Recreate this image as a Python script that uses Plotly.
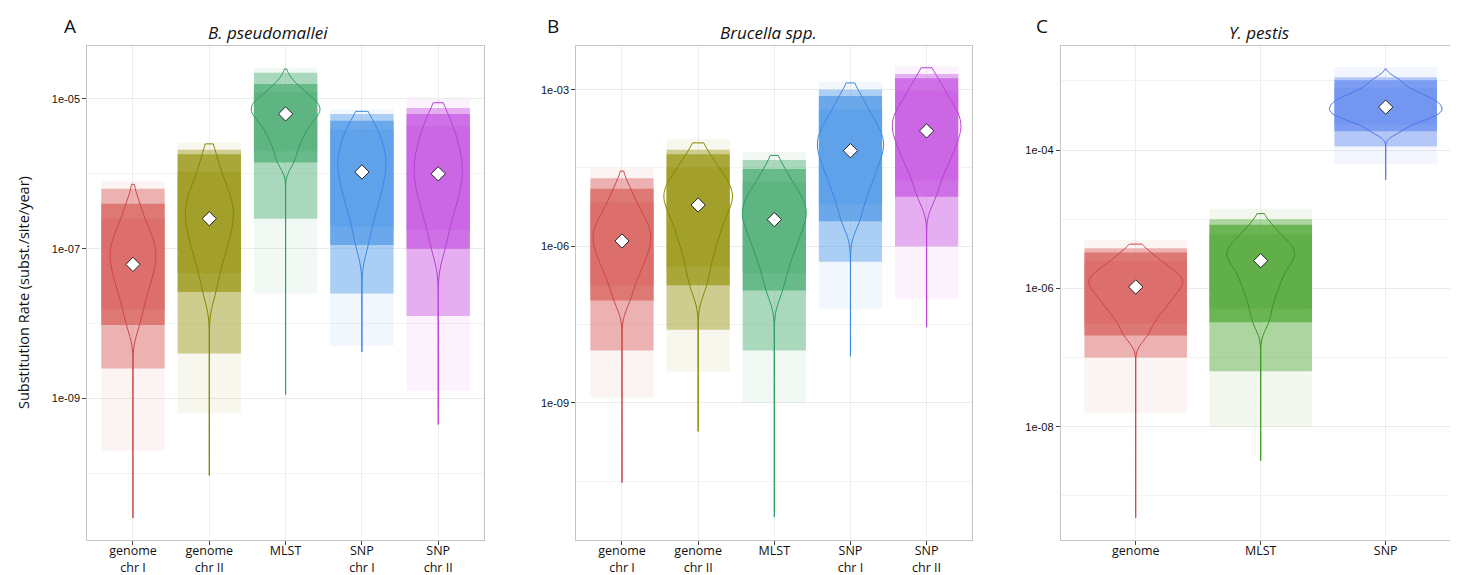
import plotly.graph_objects as go

# ---------------- categories / tick labels ----------------
cats_A = ["genome chr I", "genome chr II", "MLST", "SNP chr I", "SNP chr II"]
ticktext_A = ["genome<br>chr I", "genome<br>chr II", "MLST", "SNP<br>chr I", "SNP<br>chr II"]
cats_B = ["genome chr I", "genome chr II", "MLST", "SNP chr I", "SNP chr II"]
ticktext_B = ["genome<br>chr I", "genome<br>chr II", "MLST", "SNP<br>chr I", "SNP<br>chr II"]
cats_C = ["genome", "MLST", "SNP"]
ticktext_C = ["genome", "MLST", "SNP"]

# y axis ticks (log10 of substitution rate)
ytick_A = [-9, -7, -5]
ytick_label_A = ["1e-09", "1e-07", "1e-05"]
yminor_A = [-10, -8, -6]
ytick_B = [-9, -6, -3]
ytick_label_B = ["1e-09", "1e-06", "1e-03"]
yminor_B = [-10.5, -7.5, -4.5]
ytick_C = [-8, -6, -4]
ytick_label_C = ["1e-08", "1e-06", "1e-04"]
yminor_C = [-9, -7, -5, -3]

# ---------------- data: log10(rate) quantiles ----------------
# Panel A  B. pseudomallei
A_genome_chrI = [-8.02, -7.81, -7.66, -7.54, -7.44, -7.35, -7.27, -7.19,
                 -7.12, -7.05, -6.98, -6.91, -6.82, -6.73, -6.60, -6.40]
A_genome_chrII = [-7.58, -7.33, -7.16, -7.03, -6.92, -6.82, -6.73, -6.64,
                  -6.56, -6.49, -6.41, -6.32, -6.23, -6.12, -5.97, -5.74]
A_MLST = [-5.85, -5.70, -5.58, -5.49, -5.41, -5.34, -5.28, -5.23,
          -5.18, -5.15, -5.11, -5.07, -5.03, -4.98, -4.91, -4.80]
A_SNP_chrI = [-6.95, -6.70, -6.53, -6.40, -6.29, -6.19, -6.10, -6.01,
              -5.93, -5.86, -5.78, -5.70, -5.62, -5.52, -5.41, -5.29]
A_SNP_chrII = [-7.00, -6.75, -6.58, -6.44, -6.33, -6.23, -6.14, -6.04,
               -5.96, -5.88, -5.79, -5.70, -5.60, -5.49, -5.36, -5.20]
A_min = [-10.60, -10.03, -8.95, -8.38, -9.35]
A_max = [-6.14, -5.60, -4.60, -5.165, -5.05]
A_tail_lo = [-8.6, -8.4, -6.6, -7.6, -7.9]
A_tail_hi = [-6.2, -5.68, -4.65, -5.2, -5.12]
A_sparse_lo = [-9.7, -9.2, -7.6, -8.3, -8.9]
A_sparse_hi = [-6.1, -5.58, -4.58, -5.14, -5.0]
A_centre = [-7.21, -6.60, -5.20, -5.975, -6.00]

# Panel B  Brucella spp.
B_genome_chrI = [-7.04, -6.76, -6.56, -6.40, -6.28, -6.16, -6.05, -5.95,
                 -5.86, -5.77, -5.68, -5.58, -5.47, -5.33, -5.16, -4.90]
B_genome_chrII = [-6.75, -6.40, -6.12, -5.91, -5.73, -5.57, -5.42, -5.28,
                  -5.17, -5.08, -4.99, -4.89, -4.78, -4.65, -4.49, -4.24]
B_MLST = [-6.85, -6.52, -6.28, -6.10, -5.94, -5.80, -5.68, -5.55,
          -5.45, -5.36, -5.27, -5.17, -5.06, -4.93, -4.77, -4.52]
B_SNP_chrI = [-5.52, -5.20, -4.96, -4.78, -4.62, -4.48, -4.36, -4.23,
              -4.12, -4.03, -3.93, -3.82, -3.70, -3.56, -3.38, -3.12]
B_SNP_chrII = [-5.05, -4.74, -4.52, -4.35, -4.21, -4.08, -3.96, -3.85,
               -3.75, -3.65, -3.56, -3.45, -3.34, -3.20, -3.03, -2.78]
B_min = [-10.53, -9.55, -11.19, -8.11, -7.55]
B_max = [-4.56, -4.02, -4.26, -2.87, -2.58]
B_tail_lo = [-8.0, -7.6, -8.0, -6.3, -6.0]
B_tail_hi = [-4.7, -4.15, -4.35, -3.0, -2.7]
B_sparse_lo = [-8.9, -8.4, -9.0, -7.2, -7.0]
B_sparse_hi = [-4.5, -3.95, -4.2, -2.85, -2.55]
B_centre = [-5.90, -5.21, -5.49, -4.17, -3.79]

# Panel C  Y. pestis
C_genome = [-6.68, -6.51, -6.38, -6.29, -6.21, -6.14, -6.08, -6.01,
            -5.96, -5.91, -5.87, -5.82, -5.76, -5.70, -5.61, -5.48]
C_MLST = [-6.49, -6.29, -6.13, -6.00, -5.90, -5.81, -5.72, -5.64,
          -5.58, -5.53, -5.48, -5.43, -5.38, -5.31, -5.22, -5.08]
C_SNP = [-3.73, -3.63, -3.57, -3.53, -3.49, -3.46, -3.43, -3.40,
         -3.36, -3.33, -3.30, -3.26, -3.22, -3.17, -3.10, -2.99]
C_min = [-9.32, -8.49, -4.43]
C_max = [-5.36, -4.92, -2.83]
C_tail_lo = [-7.0, -7.2, -3.95]
C_tail_hi = [-5.42, -5.0, -2.95]
C_sparse_lo = [-7.8, -8.0, -4.2]
C_sparse_hi = [-5.3, -4.85, -2.8]
C_centre = [-5.98, -5.60, -3.38]

# ---------------- styles ----------------
fill_AB = ["#DA6462", "#9C9A1C", "#53B07A", "#549BE8", "#C85CE2"]
line_AB = ["#CC4545", "#878500", "#2C9C5C", "#3887E4", "#B83ED6"]
fill_C = ["#DA6462", "#56AA3C", "#6A8FF0"]
line_C = ["#CC4545", "#379820", "#4D76EA"]
vwidth_A = [0.60, 0.63, 0.90, 0.63, 0.63]
vwidth_B = [0.76, 0.90, 0.84, 0.87, 0.90]
vwidth_C = [0.75, 0.54, 0.90]
bw_A = [0.17, 0.19, 0.11, 0.19, 0.20]
bw_B = [0.22, 0.26, 0.25, 0.24, 0.23]
bw_C = [0.12, 0.14, 0.07]
band_opacity = [0.08, 0.45, 0.75, 0.50]
cloud_width = {"A": 0.83, "B": 0.83, "C": 0.82}

W, H = 1458, 575
top_px, bot_px = 38.3, 532.3
panels = [
    dict(name="A", xa="x", ya="y", cats=cats_A, ticktext=ticktext_A,
         groups=[A_genome_chrI, A_genome_chrII, A_MLST, A_SNP_chrI, A_SNP_chrII],
         vmin=A_min, vmax=A_max, tlo=A_tail_lo, thi=A_tail_hi, slo=A_sparse_lo, shi=A_sparse_hi,
         centre=A_centre, fill=fill_AB, line=line_AB, vw=vwidth_A, bw=bw_A,
         xpx=(79.2, 476.0), yrange=[-10.897, -4.296], yt=ytick_A, ytl=ytick_label_A, ym=yminor_A),
    dict(name="B", xa="x2", ya="y2", cats=cats_B, ticktext=ticktext_B,
         groups=[B_genome_chrI, B_genome_chrII, B_MLST, B_SNP_chrI, B_SNP_chrII],
         vmin=B_min, vmax=B_max, tlo=B_tail_lo, thi=B_tail_hi, slo=B_sparse_lo, shi=B_sparse_hi,
         centre=B_centre, fill=fill_AB, line=line_AB, vw=vwidth_B, bw=bw_B,
         xpx=(568.3, 964.3), yrange=[-11.636, -2.169], yt=ytick_B, ytl=ytick_label_B, ym=yminor_B),
    dict(name="C", xa="x3", ya="y3", cats=cats_C, ticktext=ticktext_C,
         groups=[C_genome, C_MLST, C_SNP],
         vmin=C_min, vmax=C_max, tlo=C_tail_lo, thi=C_tail_hi, slo=C_sparse_lo, shi=C_sparse_hi,
         centre=C_centre, fill=fill_C, line=line_C, vw=vwidth_C, bw=bw_C,
         xpx=(1052.7, 1452.7), yrange=[-9.642, -2.501], yt=ytick_C, ytl=ytick_label_C, ym=yminor_C),
]

fig = go.Figure()
layout = dict(
    width=W, height=H, autosize=False,
    margin=dict(l=0, r=0, t=0, b=0),
    paper_bgcolor="white", plot_bgcolor="white",
    showlegend=False, barmode="overlay", violinmode="overlay",
    font=dict(family="Open Sans, Liberation Sans, sans-serif", color="#222"),
)

for i, p in enumerate(panels):
    suffix = "" if i == 0 else str(i + 1)
    n = len(p["cats"])
    # jittered-point cloud, approximated by nested translucent bands between quantiles
    for j, cat in enumerate(p["cats"]):
        q = p["groups"][j]
        bands = [
            (p["slo"][j], p["shi"][j]),
            (p["tlo"][j], p["thi"][j]),
            (q[0], q[-1]),
            (q[1], q[-2]),
        ]
        for (lo, hi), op in zip(bands, band_opacity):
            fig.add_trace(go.Bar(
                x=[cat], y=[hi - lo], base=[lo], width=cloud_width[p["name"]],
                marker=dict(color=p["fill"][j], line=dict(width=0)),
                opacity=op, xaxis=p["xa"], yaxis=p["ya"], hoverinfo="skip"))
    # violins
    for j, cat in enumerate(p["cats"]):
        q = p["groups"][j]
        fig.add_trace(go.Violin(
            x=[cat] * len(q), y=q, width=p["vw"][j],
            spanmode="manual", span=[p["vmin"][j], p["vmax"][j]],
            bandwidth=p["bw"][j], scalemode="width",
            fillcolor="rgba(0,0,0,0)", line=dict(color=p["line"][j], width=1),
            points=False, box=dict(visible=False), meanline=dict(visible=False),
            xaxis=p["xa"], yaxis=p["ya"], hoverinfo="skip"))
    # diamonds
    fig.add_trace(go.Scatter(
        x=p["cats"], y=p["centre"], mode="markers",
        marker=dict(symbol="diamond", size=11, color="white", line=dict(color="#222", width=1)),
        xaxis=p["xa"], yaxis=p["ya"], hoverinfo="skip"))

    layout["xaxis" + suffix] = dict(
        domain=[p["xpx"][0] / W, p["xpx"][1] / W], anchor=p["ya"],
        type="category", categoryorder="array", categoryarray=p["cats"],
        range=[-0.6, n - 0.4], tickmode="array", tickvals=p["cats"], ticktext=p["ticktext"],
        showline=True, mirror=True, linecolor="#c4c4c4", linewidth=1,
        showgrid=True, gridcolor="#ededed", gridwidth=1, zeroline=False,
        ticks="outside", ticklen=4, tickcolor="#444", tickwidth=1,
        ticklabelstandoff=-5,
        tickfont=dict(family="Open Sans, sans-serif", size=12.5, color="#111"),
        fixedrange=True)
    layout["yaxis" + suffix] = dict(
        domain=[1 - bot_px / H, 1 - top_px / H], anchor=p["xa"],
        range=p["yrange"], tickmode="array", tickvals=p["yt"], ticktext=p["ytl"],
        showline=True, mirror=True, linecolor="#c4c4c4", linewidth=1,
        showgrid=True, gridcolor="#ebebeb", gridwidth=1, zeroline=False,
        ticks="outside", ticklen=4, tickcolor="#444", tickwidth=1,
        tickfont=dict(family="Liberation Sans, Arial, sans-serif", size=11, color="#111"),
        minor=dict(tickmode="array", tickvals=p["ym"], showgrid=True,
                   gridcolor="#f3f3f3", gridwidth=1, ticks=""),
        fixedrange=True)

annotations = [
    dict(text="<i>B. pseudomallei</i>", x=260 / W, y=1 - 25 / H),
    dict(text="<i>Brucella spp.</i>", x=760 / W, y=1 - 25 / H),
    dict(text="<i>Y. pestis</i>", x=1251 / W, y=1 - 25 / H),
]
annos = []
for a in annotations:
    annos.append(dict(text=a["text"], x=a["x"], y=a["y"], xref="paper", yref="paper",
                      showarrow=False, xanchor="center", yanchor="middle",
                      font=dict(family="Open Sans, sans-serif", size=17, color="#111")))
for letter, xp in [("A", 62), ("B", 545), ("C", 1034)]:
    annos.append(dict(text=letter, x=xp / W, y=1 - 18 / H, xref="paper", yref="paper",
                      showarrow=False, xanchor="center", yanchor="middle",
                      font=dict(family="Open Sans, sans-serif", size=19, color="#111")))
annos.append(dict(text="Substitution Rate (subst./site/year)", x=15 / W, y=1 - 285 / H,
                  xref="paper", yref="paper", showarrow=False, textangle=-90,
                  xanchor="center", yanchor="middle",
                  font=dict(family="Open Sans, sans-serif", size=14.5, color="#111")))
layout["annotations"] = annos

fig.update_layout(**layout)
fig.write_html("out.html")
